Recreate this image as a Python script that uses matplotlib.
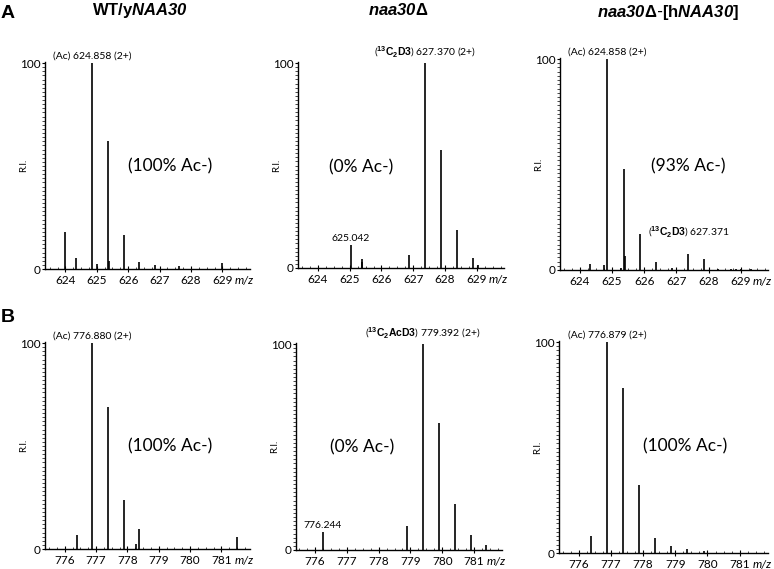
import matplotlib
matplotlib.use('Agg')
import matplotlib.pyplot as plt
from matplotlib.ticker import MultipleLocator, FixedLocator

plt.rcParams['font.family'] = ['Lato', 'DejaVu Sans']
plt.rcParams['mathtext.fontset'] = 'custom'
plt.rcParams['mathtext.rm'] = 'Liberation Sans'
plt.rcParams['mathtext.bf'] = 'Liberation Sans:bold'
plt.rcParams['mathtext.it'] = 'Liberation Sans:italic'
plt.rcParams['mathtext.bfit'] = 'Liberation Sans:bold:italic'

# peak lists (m/z, relative intensity)
a1_mz = [624.0, 624.34, 624.858, 625.02, 625.36, 625.39, 625.86, 626.36, 626.86, 627.63, 628.99]
a1_ri = [17.8, 5.5, 100, 2.4, 62, 4.0, 16.5, 3.4, 2.0, 1.3, 2.7]
a2_mz = [625.042, 625.38, 625.40, 626.87, 627.370, 627.87, 628.37, 628.87, 629.03]
a2_ri = [11.3, 4.4, 3.0, 6.5, 100, 57.6, 18.6, 4.7, 1.3]
a3_mz = [624.31, 624.75, 624.858, 625.28, 625.36, 625.41, 625.86, 626.36, 626.86, 627.371, 627.87, 628.3, 628.7, 628.85, 629.0, 629.3]
a3_ri = [2.7, 2.4, 100, 0.8, 47.7, 6.6, 16.9, 3.9, 0.8, 7.4, 5.2, 0.3, 0.6, 0.4, 0.5, 0.3]
b1_mz = [776.38, 776.880, 777.38, 777.88, 778.26, 778.38, 781.50]
b1_ri = [6.7, 100, 68.7, 24.0, 2.6, 9.6, 5.9]
b2_mz = [776.244, 778.89, 779.392, 779.89, 780.39, 780.89, 781.39]
b2_ri = [8.8, 11.7, 100, 61.9, 22.3, 7.2, 2.3]
b3_mz = [776.38, 776.879, 777.38, 777.88, 778.38, 778.88, 779.38, 779.88]
b3_ri = [8.2, 100, 78.1, 32.1, 6.9, 3.5, 1.7, 0.8]

a_ticks = [624, 625, 626, 627, 628, 629]
b_ticks = [776, 777, 778, 779, 780, 781]

W, H = 774, 569
fig = plt.figure(figsize=(W / 100, H / 100), dpi=100)


def add_panel(left, right, top, bottom, mz, ri, xlim, ticks, pct, pct_xy):
    ax = fig.add_axes([left / W, 1 - bottom / H, (right - left) / W, (bottom - top) / H])
    ax.vlines(mz, 0, ri, color='black', lw=1.2)
    ax.set_xlim(*xlim)
    ax.set_ylim(0, 100.5)
    for s in ['top', 'right']:
        ax.spines[s].set_visible(False)
    for s in ['left', 'bottom']:
        ax.spines[s].set_linewidth(1.0)
    ax.yaxis.set_major_locator(FixedLocator([0, 100]))
    ax.yaxis.set_minor_locator(MultipleLocator(2))
    ax.xaxis.set_major_locator(FixedLocator(ticks))
    ax.xaxis.set_minor_locator(MultipleLocator(0.25))
    ax.tick_params(axis='y', which='major', length=2, width=0.8, labelsize=8.5, pad=1)
    ax.tick_params(axis='y', which='minor', length=2, width=0.5)
    ax.tick_params(axis='x', which='major', direction='inout', length=5, width=0.8, labelsize=8.5, pad=2)
    ax.tick_params(axis='x', which='minor', direction='in', length=1.5, width=0.5)
    ax.set_ylabel('R.I.', fontsize=7)
    ax.yaxis.set_label_coords(-0.08, 0.5)
    ax.text(1.02, -0.027, 'm/z', transform=ax.transAxes, ha='right', va='top',
            fontsize=8.5, style='italic')
    ax.text(pct_xy[0], pct_xy[1], pct, ha='center', va='center', fontsize=12.5)
    return ax


def peak_label(ax, x, y, txt, dy=2):
    ax.annotate(txt, xy=(x, y), xytext=(0, dy), textcoords='offset points',
                ha='center', va='bottom', fontsize=7.5, annotation_clip=False)


axA1 = add_panel(45, 250, 62, 269, a1_mz, a1_ri, (623.35, 629.88), a_ticks, '(100% Ac-)', (627.34, 50))
peak_label(axA1, 624.858, 100, '(Ac) 624.858 (2+)')

axA2 = add_panel(298, 504, 62, 268, a2_mz, a2_ri, (623.37, 629.86), a_ticks, '(0% Ac-)', (625.37, 49))
peak_label(axA2, 627.370, 100, r'($\mathbf{^{13}C_2D3}$) 627.370 (2+)')
peak_label(axA2, 625.042, 11.3, '625.042', dy=1)

axA3 = add_panel(560, 768, 58, 270, a3_mz, a3_ri, (623.39, 629.84), a_ticks, '(93% Ac-)', (627.37, 49))
peak_label(axA3, 624.858, 100, '(Ac) 624.858 (2+)')
axA3.text(626.12, 17.8, r'($\mathbf{^{13}C_2D3}$) 627.371', ha='left', va='center', fontsize=7.5)

axB1 = add_panel(45, 250, 342, 549, b1_mz, b1_ri, (775.37, 781.91), b_ticks, '(100% Ac-)', (779.36, 50))
peak_label(axB1, 776.880, 100, '(Ac) 776.880 (2+)')

axB2 = add_panel(296, 502, 343, 550, b2_mz, b2_ri, (775.40, 781.88), b_ticks, '(0% Ac-)', (777.47, 50))
peak_label(axB2, 779.392, 100, r'($\mathbf{^{13}C_2AcD3}$) 779.392 (2+)')
peak_label(axB2, 776.244, 8.8, '776.244', dy=1)

axB3 = add_panel(559, 768, 341, 553, b3_mz, b3_ri, (775.39, 781.88), b_ticks, '(100% Ac-)', (779.31, 50.5))
peak_label(axB3, 776.879, 100, '(Ac) 776.879 (2+)')

# column titles and panel letters
fig.text(140 / W, 1 - 10 / H, r'$\mathbf{WT/y}\mathbfit{NAA30}$', ha='center', va='center', fontsize=12)
fig.text(398 / W, 1 - 10 / H, r'$\mathbfit{naa30}\mathbf{\Delta}$', ha='center', va='center', fontsize=12)
fig.text(668 / W, 1 - 12 / H, r'$\mathbfit{naa30}\mathbf{\Delta}$-$\mathbf{[h}\mathbfit{NAA30}\mathbf{]}$',
         ha='center', va='center', fontsize=12)
fig.text(8 / W, 1 - 14 / H, 'A', ha='center', va='center', fontsize=14, fontweight='bold',
         family='Liberation Sans')
fig.text(8 / W, 1 - 317 / H, 'B', ha='center', va='center', fontsize=14, fontweight='bold',
         family='Liberation Sans')

fig.savefig('out.png', dpi=100)
